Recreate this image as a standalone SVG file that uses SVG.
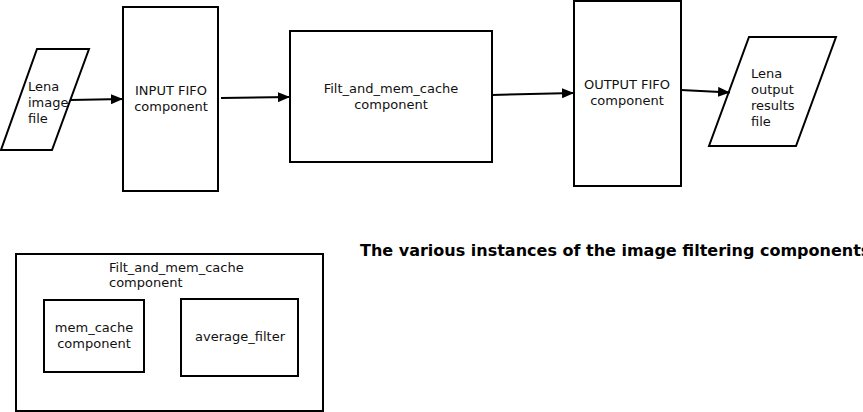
<svg xmlns="http://www.w3.org/2000/svg" width="863" height="412" viewBox="0 0 863 412">
<style>
.s{fill:#fff;stroke:#000;stroke-width:2}
.t{font-family:"DejaVu Sans",sans-serif;font-size:13px;fill:#111}
.c{text-anchor:middle}
.b{font-family:"DejaVu Sans",sans-serif;font-size:16px;font-weight:bold;fill:#000}
.e{fill:none;stroke:#000;stroke-width:2}
</style>
<defs>
<marker id="a" viewBox="0 0 12 10" refX="12" refY="5" markerWidth="12" markerHeight="10" markerUnits="userSpaceOnUse" orient="auto">
<path d="M0,0 L12,5 L0,10 z" fill="#000"/>
</marker>
</defs>
<g id="lena-in">
<polygon class="s" points="37,49 89,49 52,150 1,150"/>
<text class="t" x="28" y="91">Lena</text>
<text class="t" x="28" y="107">image</text>
<text class="t" x="28" y="123">file</text>
</g>
<g id="input-fifo">
<rect class="s" x="123" y="7" width="95" height="184"/>
<text class="t c" x="171" y="95">INPUT FIFO</text>
<text class="t c" x="171" y="111">component</text>
</g>
<g id="filt">
<rect class="s" x="290" y="31" width="202" height="131"/>
<text class="t c" x="391" y="93">Filt_and_mem_cache</text>
<text class="t c" x="391" y="109">component</text>
</g>
<g id="output-fifo">
<rect class="s" x="574" y="1" width="107" height="185"/>
<text class="t c" x="627" y="89">OUTPUT FIFO</text>
<text class="t c" x="627" y="105">component</text>
</g>
<g id="lena-out">
<polygon class="s" points="749,37 836,37 796,146 709,146"/>
<text class="t" x="751" y="78">Lena</text>
<text class="t" x="751" y="94">output</text>
<text class="t" x="751" y="110">results</text>
<text class="t" x="751" y="126">file</text>
</g>
<g id="connectors">
<line class="e" x1="70" y1="100" x2="123" y2="99" marker-end="url(#a)"/>
<line class="e" x1="221" y1="98" x2="290" y2="97" marker-end="url(#a)"/>
<line class="e" x1="492" y1="95" x2="574" y2="93" marker-end="url(#a)"/>
<line class="e" x1="681" y1="90" x2="730" y2="92.5" marker-end="url(#a)"/>
</g>
<g id="filt-detail">
<rect class="s" x="16" y="254" width="307" height="157"/>
<text class="t" x="109" y="272">Filt_and_mem_cache</text>
<text class="t" x="109" y="287">component</text>
</g>
<g id="mem-cache">
<rect class="s" x="44" y="300" width="100" height="72"/>
<text class="t c" x="94" y="332">mem_cache</text>
<text class="t c" x="94" y="348">component</text>
</g>
<g id="average-filter">
<rect class="s" x="181" y="299" width="117" height="77"/>
<text class="t c" x="240" y="341">average_filter</text>
</g>
<text class="b" x="360" y="256">The various instances of the image filtering components</text>
</svg>
